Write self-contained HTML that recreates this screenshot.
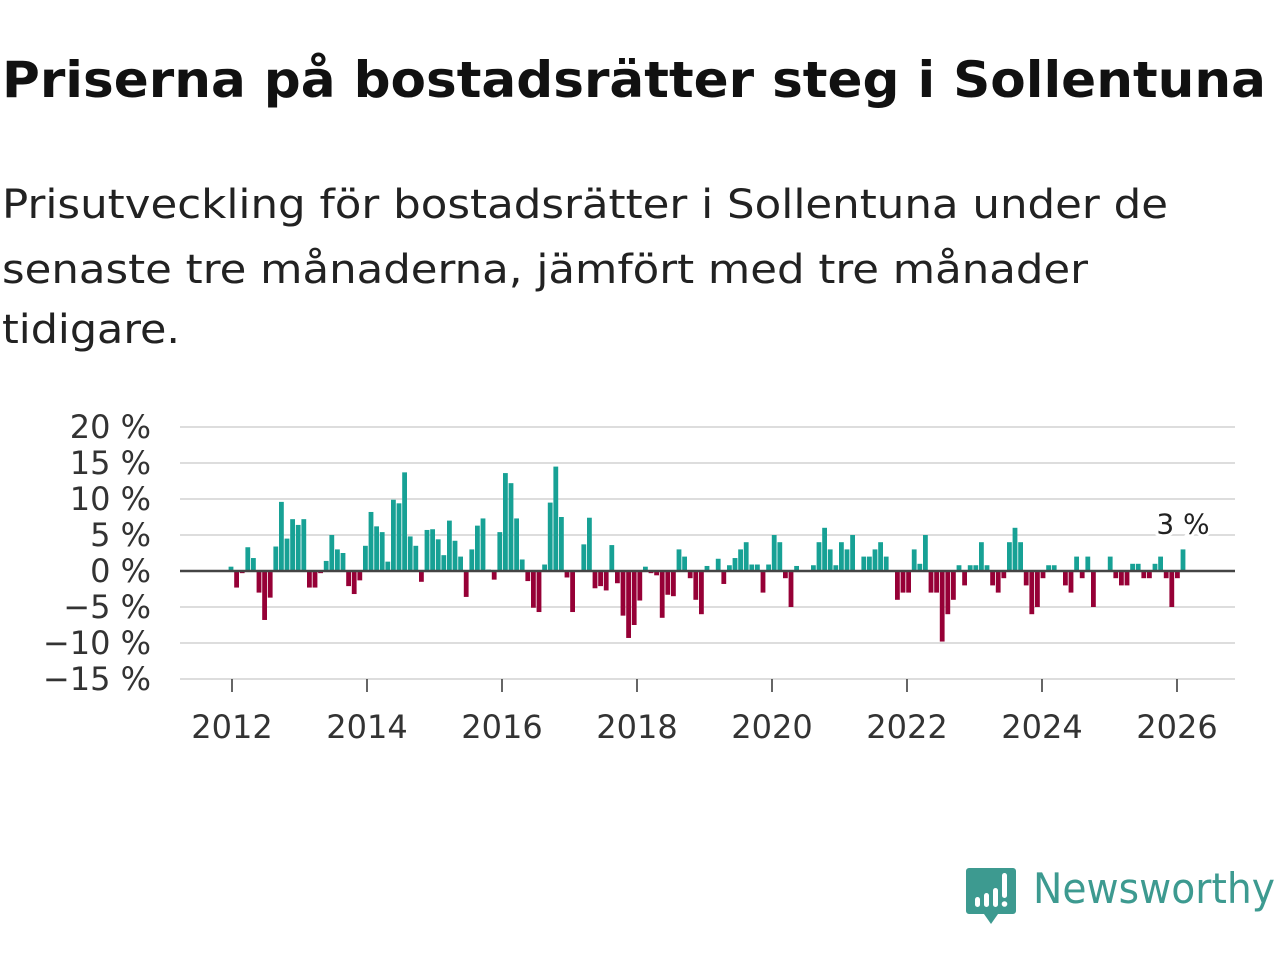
<!DOCTYPE html>
<html><head><meta charset="utf-8"><style>
html,body{margin:0;padding:0;background:#fff;width:1280px;height:960px;overflow:hidden}
svg{display:block}
text{font-family:"DejaVu Sans","Liberation Sans",sans-serif}
</style></head><body>
<svg id="chart" width="1280" height="960" viewBox="0 0 1280 960">
<text x="2" y="97" font-size="50" font-weight="bold" fill="#111" textLength="1264" lengthAdjust="spacingAndGlyphs">Priserna på bostadsrätter steg i Sollentuna</text>
<g font-size="40" fill="#222">
<text x="2" y="218" textLength="1166" lengthAdjust="spacingAndGlyphs">Prisutveckling för bostadsrätter i Sollentuna under de</text>
<text x="2" y="283" textLength="1086" lengthAdjust="spacingAndGlyphs">senaste tre månaderna, jämfört med tre månader</text>
<text x="2" y="343" textLength="178" lengthAdjust="spacingAndGlyphs">tidigare.</text>
</g>
<g id="grid"></g>
<g id="yaxis"></g>
<g id="xaxis"></g>
<g id="bars"></g>
<line id="zero" stroke="#444" stroke-width="2.5"></line>
<g id="annot"></g>
<g>
<path d="M969 868 h44 a3 3 0 0 1 3 3 v40 a3 3 0 0 1 -3 3 h-15 l-7 10 l-7 -10 h-15 a3 3 0 0 1 -3 -3 v-40 a3 3 0 0 1 3 -3z" fill="#3d9a90"/>
<rect x="975" y="897" width="5" height="10" rx="2.5" fill="#fff"/>
<rect x="984" y="893" width="5" height="14" rx="2.5" fill="#fff"/>
<rect x="993" y="888" width="5" height="19" rx="2.5" fill="#fff"/>
<rect x="1002" y="873" width="5" height="25" rx="2.5" fill="#fff"/>
<circle cx="1004.5" cy="904" r="2.8" fill="#fff"/>
<text x="1033" y="903" font-size="42" fill="#3d9a90" font-family="Liberation Sans, sans-serif" textLength="242" lengthAdjust="spacingAndGlyphs">Newsworthy</text>
</g>
</svg>
<script>
const values = [0.6,-2.3,-0.3,3.3,1.8,-3.0,-6.8,-3.7,3.4,9.6,4.5,7.2,6.4,7.2,-2.3,-2.3,-0.3,1.4,5.0,3.0,2.5,-2.1,-3.2,-1.3,3.5,8.2,6.2,5.4,1.3,9.9,9.4,13.7,4.8,3.5,-1.5,5.7,5.8,4.4,2.2,7.0,4.2,2.0,-3.6,3.0,6.3,7.3,0.2,-1.2,5.4,13.6,12.2,7.3,1.6,-1.4,-5.1,-5.7,0.9,9.5,14.5,7.5,-0.9,-5.7,0,3.7,7.4,-2.4,-2.1,-2.7,3.6,-1.7,-6.2,-9.3,-7.5,-4.1,0.6,-0.3,-0.6,-6.5,-3.3,-3.5,3.0,2.0,-1.0,-4.0,-6.0,0.7,0,1.7,-1.8,0.8,1.8,3.0,4.0,0.9,0.9,-3.0,0.9,5.0,4.0,-1.0,-5.0,0.7,0,0,0.8,4.0,6.0,3.0,0.8,4.0,3.0,5.0,0,2.0,2.0,3.0,4.0,2.0,0,-4.0,-3.0,-3.0,3.0,1.0,5.0,-3.0,-3.0,-9.8,-6.0,-4.0,0.8,-2.0,0.8,0.8,4.0,0.8,-2.0,-3.0,-1.0,4.0,6.0,4.0,-2.0,-6.0,-5.0,-1.0,0.8,0.8,0,-2.0,-3.0,2.0,-1.0,2.0,-5.0,0,0,2.0,-1.0,-2.0,-2.0,1.0,1.0,-1.0,-1.0,1.0,2.0,-1.0,-5.0,-1.0,3.0];
const yTicks = [20,15,10,5,0,-5,-10,-15];
const yTickLabels = ["20 %","15 %","10 %","5 %","0 %","−5 %","−10 %","−15 %"];
const xTicks = [2012,2014,2016,2018,2020,2022,2024,2026];
const lastLabel = "3 %";
const NS="http://www.w3.org/2000/svg";
function y(v){return 571 - v*7.2;}
function xYear(yr){return 232 + (yr-2012)*67.5;}
const x0=231, x1=1183;
function xBar(i){return x0 + i*(x1-x0)/(values.length-1);}
function mk(tag,attrs,parent){const e=document.createElementNS(NS,tag);for(const k in attrs)e.setAttribute(k,attrs[k]);parent.appendChild(e);return e;}
const grid=document.getElementById('grid'), ya=document.getElementById('yaxis'), xa=document.getElementById('xaxis'), bars=document.getElementById('bars');
yTicks.forEach((t,i)=>{
  if(t!==0){const l=mk('line',{x1:180,x2:1235,y1:y(t),y2:y(t),stroke:'#ddd','stroke-width':2},grid);
  
  }
  const tx=mk('text',{x:151,y:y(t)+11,'text-anchor':'end','font-size':32,fill:'#333'},ya);
  tx.textContent=yTickLabels[i];
  
  
});
xTicks.forEach(yr=>{
  const l=mk('line',{x1:xYear(yr),x2:xYear(yr),y1:679,y2:692,stroke:'#333','stroke-width':1.5},xa);
  
  
  const tx=mk('text',{x:xYear(yr),y:738,'text-anchor':'middle','font-size':32,fill:'#333'},xa);
  tx.textContent=yr;
  
  
});
values.forEach((v,i)=>{
  const top=Math.min(y(v),y(0)), h=Math.abs(y(v)-y(0));
  const r=mk('rect',{x:xBar(i)-2.4,y:top,width:4.8,height:Math.max(h,0.01),fill:v>=0?'#17a195':'#960036'},bars);
  
  
});
const z=document.getElementById('zero');
z.setAttribute('x1',180);z.setAttribute('x2',1235);z.setAttribute('y1',y(0));z.setAttribute('y2',y(0));
const an=document.getElementById('annot');
const li=values.length-1;
const t=mk('text',{x:xBar(li),y:y(values[li])-16,'text-anchor':'middle','font-size':28,fill:'#222',stroke:'#fff','stroke-width':6,'paint-order':'stroke'},an);
t.textContent=lastLabel;


</script>
</body></html>
